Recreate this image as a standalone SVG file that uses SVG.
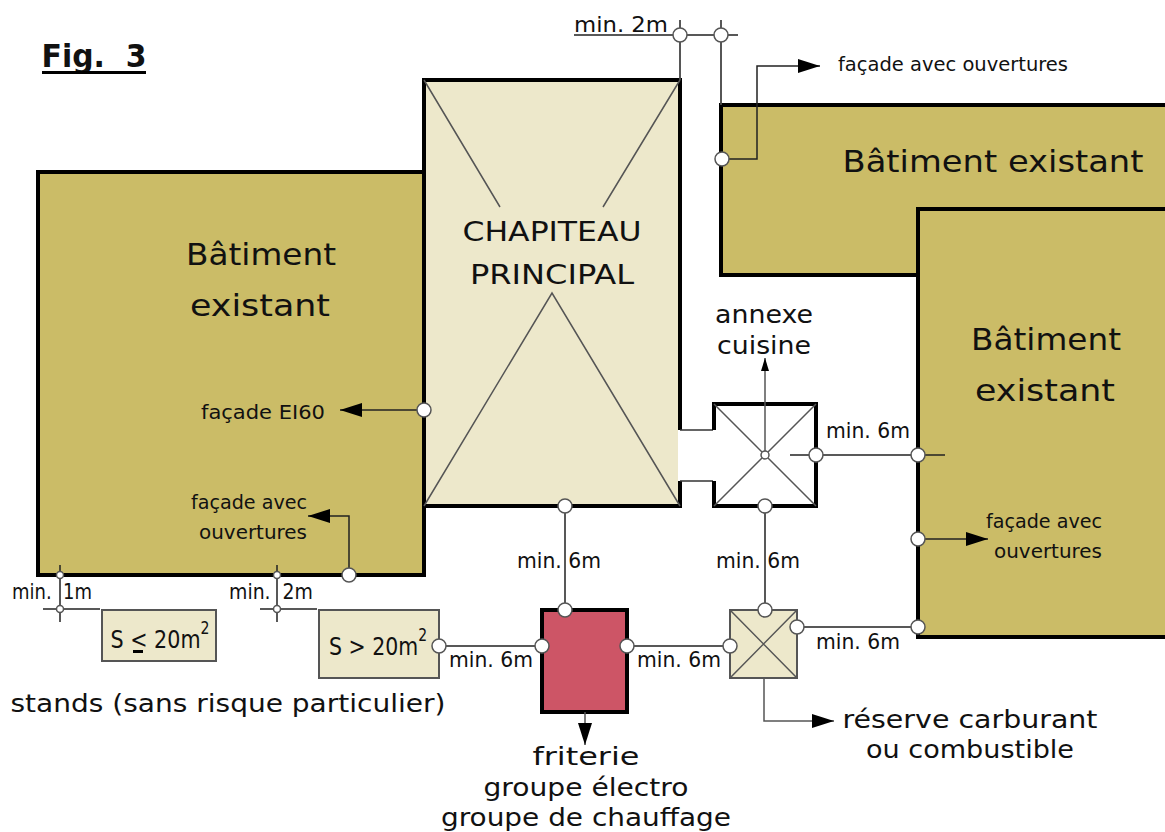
<svg xmlns="http://www.w3.org/2000/svg" width="1165" height="832" viewBox="0 0 1165 832">
<style>
text{font-family:"DejaVu Sans","Open Sans",sans-serif;fill:#111;text-anchor:middle}
.l{font-size:21px}.m{font-size:19px}.b{font-size:31px}.t{font-size:27px}.g{font-size:25px}
.bld{fill:#cbbc67;stroke:#000;stroke-width:4}
.tent{fill:#ede8cb;stroke:#000;stroke-width:4}
.thin{fill:none;stroke:#555;stroke-width:1.5}
.dark{fill:none;stroke:#222;stroke-width:1.5}
.box{fill:#ede8cb;stroke:#555;stroke-width:2}
.dot{fill:#fff;stroke:#555;stroke-width:1.5}
</style>
<defs>
<marker id="arrow" markerUnits="userSpaceOnUse" markerWidth="24" markerHeight="14" refX="22" refY="7" orient="auto"><path d="M0 0L22 7L0 14Z" fill="#000"/></marker>
<marker id="small" markerUnits="userSpaceOnUse" markerWidth="14" markerHeight="10" refX="13" refY="4" orient="auto"><path d="M0 0L13 4L0 8Z" fill="#000"/></marker>
</defs>
<text x="94" y="67" style="font-size:32px;font-weight:700" textLength="105" lengthAdjust="spacingAndGlyphs" xml:space="preserve">Fig.  3</text>
<rect x="42" y="71" width="104" height="3" fill="#000"/>
<g id="bat-gauche"><rect class="bld" x="38" y="172" width="386" height="403"/>
<text class="b" x="261" y="265" textLength="150" lengthAdjust="spacingAndGlyphs">Bâtiment</text><text class="b" x="260" y="316" textLength="140" lengthAdjust="spacingAndGlyphs">existant</text></g>
<g id="bat-haut"><path class="bld" d="M1167 105H721V275H920V209H1167"/>
<text class="b" x="993" y="172" textLength="301" lengthAdjust="spacingAndGlyphs">Bâtiment existant</text></g>
<g id="bat-droite"><path class="bld" d="M1167 209H918V637H1167"/>
<text class="b" x="1046" y="350" textLength="150" lengthAdjust="spacingAndGlyphs">Bâtiment</text><text class="b" x="1045" y="401" textLength="140" lengthAdjust="spacingAndGlyphs">existant</text></g>
<g id="chapiteau"><rect class="tent" x="424" y="80" width="256" height="426"/>
<path class="thin" d="M424 80L500 207M680 80L603 207M424 506L552 293L680 506"/>
<text class="t" x="552" y="241" textLength="179" lengthAdjust="spacingAndGlyphs">CHAPITEAU</text><text class="t" x="552" y="284" textLength="164" lengthAdjust="spacingAndGlyphs">PRINCIPAL</text></g>
<g id="annexe"><path d="M678 430H714V404H816V506H714V481H678Z" fill="#fff"/>
<path d="M680 430H713M680 481H713" fill="none" stroke="#333" stroke-width="1.5"/>
<path d="M714 430V404H816V506H714V481" fill="none" stroke="#000" stroke-width="4"/>
<path class="thin" d="M714 404L816 506M816 404L714 506"/>
<text class="g" x="764" y="323" textLength="98" lengthAdjust="spacingAndGlyphs">annexe</text><text class="g" x="764" y="354" textLength="94" lengthAdjust="spacingAndGlyphs">cuisine</text></g>
<g id="stand-petit"><rect class="box" x="102" y="610" width="114" height="51"/>
<text class="g" x="160" y="648" textLength="99" lengthAdjust="spacingAndGlyphs">S &lt; 20m<tspan dy="-14" font-size="17">2</tspan></text><rect x="133" y="650" width="10" height="3" fill="#000"/></g>
<g id="stand-grand"><rect class="box" x="319" y="610" width="120" height="68"/>
<text class="g" x="378" y="655" textLength="98" lengthAdjust="spacingAndGlyphs">S &gt; 20m<tspan dy="-14" font-size="17">2</tspan></text></g>
<g id="friterie"><rect x="542" y="610" width="85" height="102" fill="#cd5566" stroke="#000" stroke-width="4"/>
<text class="g" x="586" y="765" textLength="107" lengthAdjust="spacingAndGlyphs">friterie</text><text class="g" x="586" y="796" textLength="205" lengthAdjust="spacingAndGlyphs">groupe électro</text><text class="g" x="586" y="826" textLength="290" lengthAdjust="spacingAndGlyphs">groupe de chauffage</text></g>
<g id="reserve"><rect class="box" x="730" y="610" width="67" height="68"/><path class="thin" d="M730 610L797 678M797 610L730 678"/>
<text class="g" x="970" y="728" textLength="255" lengthAdjust="spacingAndGlyphs">réserve carburant</text><text class="g" x="970" y="758" textLength="208" lengthAdjust="spacingAndGlyphs">ou combustible</text></g>
<g id="connectors">
<path class="dark" d="M574 35H738M680 20V80M721 20V105"/>
<path class="thin" d="M680 35V80M721 35V105"/>
<path class="dark" d="M722 159H757V66H820" marker-end="url(#arrow)"/>
<path class="dark" d="M424 410H340" marker-end="url(#arrow)"/>
<path class="dark" d="M349 575V516H308" marker-end="url(#arrow)"/>
<path class="dark" d="M60 565V622M43 609H100M277 565V622M260 609H317"/>
<path class="dark" d="M439 646H542M627 646H730M797 627H918M565 506V610M765 506V610"/>
<path class="dark" d="M790 455H945"/>
<path class="thin" d="M765 454V358" marker-end="url(#small)"/>
<path class="dark" d="M918 539H988" marker-end="url(#arrow)"/>
<path class="thin" d="M585 712V745" marker-end="url(#arrow)"/>
<path class="thin" d="M764 678V721H834" marker-end="url(#arrow)"/>
<g class="dot"><circle cx="680" cy="35" r="7"/><circle cx="721" cy="35" r="7"/><circle cx="722" cy="159" r="7"/><circle cx="424" cy="410" r="7"/><circle cx="349" cy="575" r="7"/><circle cx="60" cy="575" r="3.500"/><circle cx="60" cy="609" r="3.500"/><circle cx="277" cy="575" r="3.500"/><circle cx="277" cy="609" r="3.500"/><circle cx="439" cy="646" r="7"/><circle cx="542" cy="646" r="7"/><circle cx="627" cy="646" r="7"/><circle cx="730" cy="646" r="7"/><circle cx="797" cy="627" r="7"/><circle cx="918" cy="627" r="7"/><circle cx="565" cy="506" r="7"/><circle cx="565" cy="610" r="7"/><circle cx="765" cy="506" r="7"/><circle cx="765" cy="610" r="7"/><circle cx="765" cy="455" r="4"/><circle cx="816" cy="455" r="7"/><circle cx="918" cy="455" r="7"/><circle cx="918" cy="539" r="7"/></g>
</g>
<g id="labels">
<text class="l" x="621" y="32" textLength="94" lengthAdjust="spacingAndGlyphs">min. 2m</text>
<text class="m" x="953" y="71" textLength="230" lengthAdjust="spacingAndGlyphs">façade avec ouvertures</text>
<text class="m" x="263" y="419" textLength="124" lengthAdjust="spacingAndGlyphs">façade EI60</text>
<text class="m" x="249" y="509" textLength="116" lengthAdjust="spacingAndGlyphs">façade avec</text><text class="m" x="253" y="539" textLength="108" lengthAdjust="spacingAndGlyphs">ouvertures</text>
<text class="m" x="1044" y="528" textLength="116" lengthAdjust="spacingAndGlyphs">façade avec</text><text class="m" x="1048" y="558" textLength="108" lengthAdjust="spacingAndGlyphs">ouvertures</text>
<text class="l" x="868" y="438" textLength="84" lengthAdjust="spacingAndGlyphs">min. 6m</text>
<text class="l" x="559" y="568" textLength="84" lengthAdjust="spacingAndGlyphs">min. 6m</text>
<text class="l" x="758" y="568" textLength="84" lengthAdjust="spacingAndGlyphs">min. 6m</text>
<text class="l" x="491" y="667" textLength="84" lengthAdjust="spacingAndGlyphs">min. 6m</text>
<text class="l" x="679" y="667" textLength="84" lengthAdjust="spacingAndGlyphs">min. 6m</text>
<text class="l" x="858" y="649" textLength="84" lengthAdjust="spacingAndGlyphs">min. 6m</text>
<text class="l" x="52" y="599" textLength="80" lengthAdjust="spacingAndGlyphs" xml:space="preserve">min.  1m</text>
<text class="l" x="271" y="599" textLength="84" lengthAdjust="spacingAndGlyphs" xml:space="preserve">min.  2m</text>
<text class="g" x="228" y="712" textLength="435" lengthAdjust="spacingAndGlyphs">stands (sans risque particulier)</text>
</g>
</svg>
